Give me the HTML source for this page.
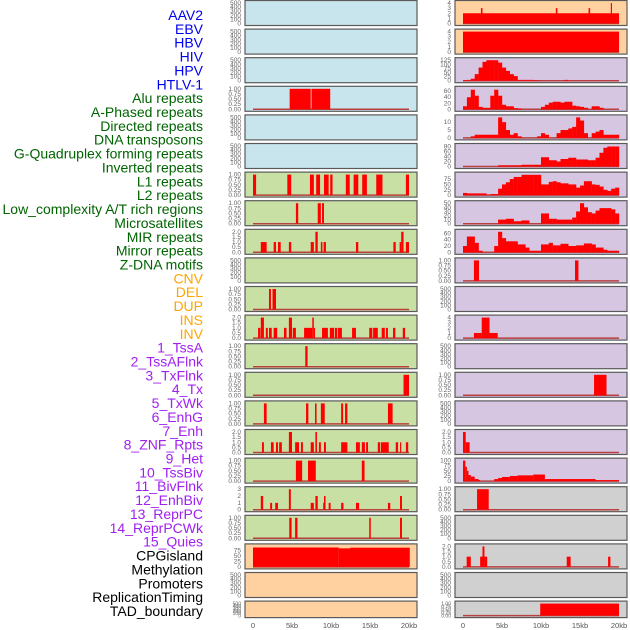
<!DOCTYPE html>
<html><head><meta charset="utf-8"><style>
html,body{margin:0;padding:0;background:#fff;width:630px;height:630px;overflow:hidden}
svg{display:block;font-family:"Liberation Sans",sans-serif}
</style></head><body>
<svg id="chart" width="630" height="630" viewBox="0 0 630 630"></svg>
<script>
// ---- data ----
const trackLabels = ["AAV2","EBV","HBV","HIV","HPV","HTLV-1","Alu repeats","A-Phased repeats","Directed repeats","DNA transposons","G-Quadruplex forming repeats","Inverted repeats","L1 repeats","L2 repeats","Low_complexity A/T rich regions","Microsatellites","MIR repeats","Mirror repeats","Z-DNA motifs","CNV","DEL","DUP","INS","INV","1_TssA","2_TssAFlnk","3_TxFlnk","4_Tx","5_TxWk","6_EnhG","7_Enh","8_ZNF_Rpts","9_Het","10_TssBiv","11_BivFlnk","12_EnhBiv","13_ReprPC","14_ReprPCWk","15_Quies","CPGisland","Methylation","Promoters","ReplicationTiming","TAD_boundary"];
const labelColors = ["#0000ee","#0000ee","#0000ee","#0000ee","#0000ee","#0000ee","#006400","#006400","#006400","#006400","#006400","#006400","#006400","#006400","#006400","#006400","#006400","#006400","#006400","#ffa500","#ffa500","#ffa500","#ffa500","#ffa500","#a020f0","#a020f0","#a020f0","#a020f0","#a020f0","#a020f0","#a020f0","#a020f0","#a020f0","#a020f0","#a020f0","#a020f0","#a020f0","#a020f0","#a020f0","#000","#000","#000","#000","#000"];
const xTicks = [0,5,10,15,20];
const xTickLabels = ["0","5kb","10kb","15kb","20kb"];

const ticksEmpty = [0,100,200,300,400,500];
const ticksUnit = [0,0.25,0.5,0.75,1];
const ticksTwo = [0,0.5,1,1.5,2];

// left column segments [startKb, endKb, value]
const L_alu = [[4.7,7.4,1],[7.5,9.9,1]];
const L_l1 = [[0,0.4,1],[4.4,4.9,1],[7.3,7.8,1],[8.1,8.6,1],[9.1,9.7,1],[9.9,10.2,1],[11.9,12.4,1],[12.9,13.5,1],[14,14.6,1],[15.8,16.6,1],[19.6,20,1]];
const L_low = [[5.5,5.8,1],[8.3,8.7,1],[8.85,9.1,1]];
const L_mir = [[1.0,1.75,1],[2.65,2.95,1],[3.2,3.55,1],[4.6,4.9,1],[7.4,7.8,1],[8.0,8.3,2],[8.7,8.9,1],[9.05,9.35,1],[13.2,13.5,1],[18.0,18.3,1],[18.8,19.0,1],[19.0,19.3,2],[19.6,20,1]];
const L_del = [[2.05,2.3,1],[2.5,2.95,1]];
const L_ins = [[0.65,0.95,1],[1.0,1.4,2],[1.65,1.9,1],[2.05,2.4,1],[2.65,3.1,1],[3.97,4.3,1],[4.6,5.0,2],[5.1,5.5,1],[6.55,7.6,1],[7.6,7.8,2],[7.8,7.95,1],[8.85,9.6,1],[9.85,10.4,1],[10.5,10.8,1],[10.9,11.4,1],[12.7,13.2,1],[14.9,15.3,1],[15.4,16.0,1],[16.5,16.9,1],[17.05,17.3,1],[17.95,18.25,1],[19.2,19.5,1]];
const L_tssa = [[6.7,7.0,1]];
const L_txflnk = [[19.3,20,1]];
const L_txwk = [[1.4,1.75,1],[6.8,7.1,1],[7.95,8.15,1],[8.7,9.2,1],[11.3,11.55,1],[11.8,12.1,1],[17.3,17.9,1]];
const L_enh = [[1.15,1.4,1],[2.3,2.65,1],[2.95,3.2,1],[3.35,3.7,1],[4.6,5.0,2],[5.4,5.9,1],[6.15,6.4,1],[7.4,7.8,1],[8.0,8.2,2],[8.45,8.7,1],[9.1,9.35,1],[11.3,12.1,1],[13.2,13.7,1],[13.95,14.35,1],[14.5,14.75,1],[16.0,16.3,1],[16.4,17.4,1],[18.3,18.6,1],[18.85,19.0,1],[19.6,19.9,1]];
const L_het = [[5.5,6.3,1],[7.05,8.05,1],[13.95,14.3,1]];
const L_bivflnk = [[1.0,1.3,2],[2.2,2.45,1],[2.85,3.2,1],[4.6,4.85,3],[7.4,7.8,1],[8.0,8.3,2],[9.0,9.1,1],[9.1,9.3,2],[9.7,9.95,1],[11.3,11.6,1],[13.2,13.6,1],[17.3,17.6,1],[18.85,19.1,2]];
const L_reprpc = [[4.65,4.95,1],[5.4,5.7,1],[14.9,15.1,1],[18.85,19.1,1]];
const L_cpg = [[0,11,90],[11,12.5,86],[12.5,20.1,89]];

// right column
const R_aav2 = [[0,20,2],[2.3,2.5,3],[11.9,12.1,3],[16.1,16.3,3],[18.95,19.1,4]];
const R_ebv = [[0,20,4]];
const R_hiv = [3,5,12,40,80,115,125,125,125,110,80,60,40,28,5,5,5,5,3,2,0,0,0,0,0,0,5,0,0,0,0,0,0,0,0,0,0,0,0,0];
const R_aphased = [10,40,65,45,8,5,5,45,65,45,15,10,10,4,3,0,0,0,0,0,8,15,22,25,25,22,25,25,12,10,8,5,0,10,10,5,0,0,0,0];
const R_dna = [0,0,1,2,2,2,2,2,2,13,10,5,2,3,1,0,0,0,0,1,3,2,0,0,3,5,5,6,7,13,11,3,0,3,4,5,2,2,2,2];
const R_inv = [0,0,0,0,0,0,0,0,0,5,5,5,5,5,5,7,7,7,7,7,37,37,25,25,20,30,30,35,35,28,28,28,25,25,35,55,75,80,80,80];
const R_l2 = [10,8,8,8,8,8,2,5,5,30,50,60,75,85,85,95,95,95,95,95,50,50,62,65,60,55,55,50,50,35,45,65,65,50,48,40,25,20,30,35];
const R_micro = [0,0,0,0,0,0,0,0,0,10,10,12,12,6,6,8,8,0,0,0,25,25,12,12,10,10,10,10,15,30,50,40,28,25,32,38,38,38,35,25];
const R_mirror = [20,50,50,30,5,0,0,0,20,65,45,35,35,35,25,25,15,5,5,5,25,25,30,22,22,27,27,20,20,22,22,28,28,25,15,15,8,5,5,5];
const R_cnv = [[1.4,2.05,1],[14.36,14.8,1]];
const R_inv2 = [[1.4,2.4,1],[2.4,3.4,4],[3.4,4.45,1]];
const R_tx = [[16.8,18.4,1]];
const R_znf = [[0,0.35,2],[0.35,0.85,1]];
const R_tssbiv = [[0,0.3,100],[0.3,0.5,70],[0.5,0.7,50],[0.7,1,30],[1,1.5,22],[1.5,2,10],[2,2.2,5],[4,4.5,10],[4.5,5,15],[5,6,20],[6,7,25],[7,9,28],[9,10.5,32],[10.5,17,10],[17,20,5]];
const R_enhbiv = [[1.8,3.3,1]];
const R_cpg = [[0.47,1.0,1],[2.2,2.5,1],[2.5,2.75,2],[2.75,3.1,1],[13.3,13.8,1],[18.6,18.9,1]];
const R_tad = [[9.9,20,1]];

// ---- layout ----
const BG = {b:"#c8e4ec", g:"#c8e0a4", p:"#d6c6e2", k:"#d0d0d0", o:"#ffd0a0"};
const leftCol = [
 {bg:"b",ticks:ticksEmpty,max:500},{bg:"b",ticks:ticksEmpty,max:500},{bg:"b",ticks:ticksEmpty,max:500},
 {bg:"b",ticks:ticksUnit,max:1,segs:L_alu,lab:["0.00","0.25","0.50","0.75","1.00"]},
 {bg:"b",ticks:ticksEmpty,max:500},{bg:"b",ticks:ticksEmpty,max:500},
 {bg:"g",ticks:ticksUnit,max:1,segs:L_l1},{bg:"g",ticks:ticksUnit,max:1,segs:L_low},
 {bg:"g",ticks:ticksTwo,max:2,segs:L_mir},{bg:"g",ticks:ticksEmpty,max:500},
 {bg:"g",ticks:ticksUnit,max:1,segs:L_del},{bg:"g",ticks:ticksTwo,max:2,segs:L_ins},
 {bg:"g",ticks:ticksUnit,max:1,segs:L_tssa},{bg:"g",ticks:ticksUnit,max:1,segs:L_txflnk},
 {bg:"g",ticks:ticksUnit,max:1,segs:L_txwk},{bg:"g",ticks:ticksTwo,max:2,segs:L_enh},
 {bg:"g",ticks:ticksUnit,max:1,segs:L_het},{bg:"g",ticks:[0,1,2,3],max:3,segs:L_bivflnk},
 {bg:"g",ticks:ticksUnit,max:1,segs:L_reprpc},{bg:"o",ticks:[0,25,50,75],max:95,segs:L_cpg},
 {bg:"o",ticks:ticksEmpty,max:500},{bg:"o",ticks:ticksEmpty,max:500}
];
const rightCol = [
 {bg:"o",ticks:[0,1,2,3,4],max:4,segs:R_aav2},{bg:"o",ticks:[0,1,2,3,4],max:4,segs:R_ebv},
 {bg:"p",ticks:[0,25,50,75,100,125],max:125,bins:R_hiv},{bg:"p",ticks:[0,20,40,60],max:68,bins:R_aphased},
 {bg:"p",ticks:[0,5,10],max:13,bins:R_dna},{bg:"p",ticks:[0,20,40,60,80],max:82,bins:R_inv},
 {bg:"p",ticks:[0,25,50,75],max:96,bins:R_l2},{bg:"p",ticks:[0,10,20,30,40,50],max:50,bins:R_micro},
 {bg:"p",ticks:[0,20,40,60],max:65,bins:R_mirror},{bg:"p",ticks:ticksUnit,max:1,segs:R_cnv},
 {bg:"p",ticks:ticksEmpty,max:500},{bg:"p",ticks:[0,1,2,3,4],max:4,segs:R_inv2},
 {bg:"p",ticks:ticksEmpty,max:500},{bg:"p",ticks:ticksUnit,max:1,segs:R_tx},
 {bg:"p",ticks:ticksEmpty,max:500},{bg:"p",ticks:ticksTwo,max:2,segs:R_znf},
 {bg:"p",ticks:[0,25,50,75,100],max:100,segs:R_tssbiv},{bg:"k",ticks:ticksUnit,max:1,segs:R_enhbiv},
 {bg:"k",ticks:ticksEmpty,max:500},{bg:"k",ticks:ticksTwo,max:2,segs:R_cpg},
 {bg:"k",ticks:ticksEmpty,max:500},{bg:"k",ticks:ticksUnit,max:1,segs:R_tad}
];

const NS = "http://www.w3.org/2000/svg";
const svg = document.getElementById("chart");
function mk(tag, attrs, parent){const e=document.createElementNS(NS,tag);for(const k in attrs)e.setAttribute(k,attrs[k]);(parent||svg).appendChild(e);return e;}
function fmt(t, ticks){
  if (ticks===ticksUnit) return t.toFixed(2);
  if (ticks===ticksTwo) return t.toFixed(1);
  return String(t);
}

// labels
trackLabels.forEach((t,k)=>{
  const e = mk("text",{x:203,y:15+k*13.86+5,"text-anchor":"end","font-size":"14",fill:labelColors[k]});
  e.textContent = t;
  
  
});

function drawCol(col, x0, x1, zeroX, side){
  const kbPx = 7.8;
  const xs = kb => zeroX + kb*kbPx;
  col.forEach((p,i)=>{
    const top = i*28.6+0.5;
    const h = (i===21)?16.5:25;
    const bottom = top+h;
    const g = mk("g",{});
    
    
    mk("rect",{x:x0,y:top,width:x1-x0,height:h,fill:BG[p.bg],stroke:"#5a5a5a","stroke-width":1.2},g);
    const yb = bottom-2, yt = top+2.5;
    const ys = v => yb - v/p.max*(yb-yt);
    // y ticks
    p.ticks.forEach(t=>{
      const tx = mk("text",{x:x0-4,y:ys(t)+2,"text-anchor":"end","font-size":(i===21?"5":"6.5"),fill:"#666"},g);
      tx.textContent = fmt(t,p.ticks);
      
      
    });
    const hasData = p.segs || p.bins;
    if (hasData){
      mk("line",{x1:xs(0),x2:xs(20),y1:yb,y2:yb,stroke:"#b84040","stroke-width":1.5},g);
    }
    if (p.segs){
      p.segs.forEach(s=>{
        const r = mk("rect",{x:xs(s[0]),y:ys(s[2]),width:Math.max(0.8,xs(s[1])-xs(s[0])),height:yb-ys(s[2]),fill:"#ff0000"},g);
        
        
      });
    }
    if (p.bins){
      p.bins.forEach((v,j)=>{
        if (v<=0) return;
        const r = mk("rect",{x:xs(j*0.5),y:ys(v),width:xs((j+1)*0.5)-xs(j*0.5)+0.2,height:yb-ys(v),fill:"#ff0000"},g);
        
        
      });
    }
  });
  xTicks.forEach((t,k)=>{
    const e = mk("text",{x:xs(t),y:628,"text-anchor":"middle","font-size":"7.5",fill:"#555"});
    e.textContent = xTickLabels[k];
    
    
  });
}
drawCol(leftCol, 245, 417, 253, "left");
drawCol(rightCol, 455, 627, 463, "right");
</script>
</body></html>
